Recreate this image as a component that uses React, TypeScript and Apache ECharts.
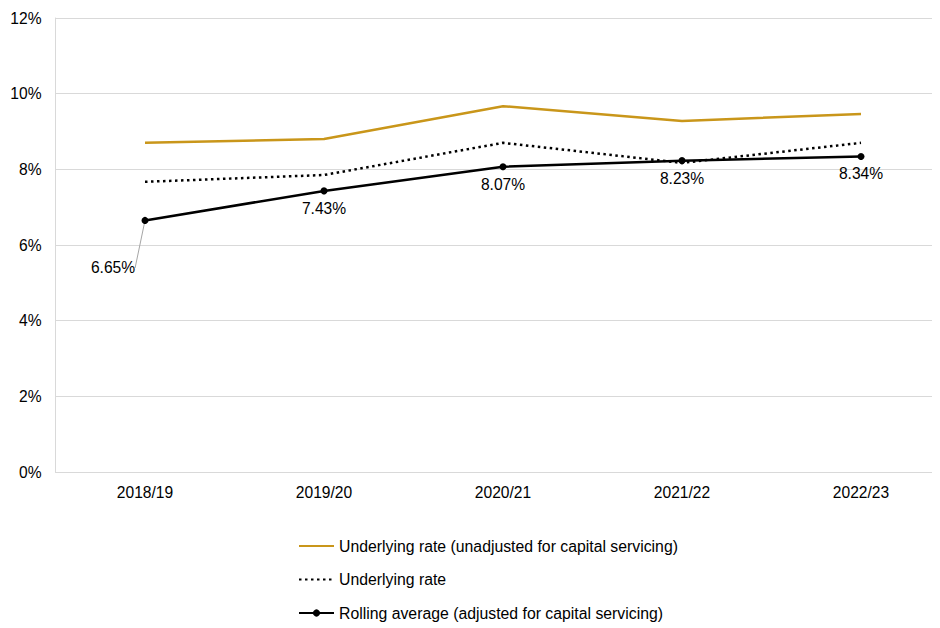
import React, { useEffect, useRef } from "react";
import * as echarts from "echarts";

const categories = ["2018/19", "2019/20", "2020/21", "2021/22", "2022/23"];
const unadjusted = [8.7, 8.8, 9.67, 9.28, 9.46];
const underlying = [7.67, 7.85, 8.7, 8.17, 8.7];
const rolling = [6.65, 7.43, 8.07, 8.23, 8.34];
const seriesNames = [
  "Underlying rate (unadjusted for capital servicing)",
  "Underlying rate",
  "Rolling average (adjusted for capital servicing)",
];

export default function App() {
  const ref = useRef<HTMLDivElement>(null);
  useEffect(() => {
    const chart = echarts.init(ref.current!, null, { renderer: "svg" });
    const font = "Liberation Sans, Arial, sans-serif";
    chart.setOption({
      animation: false,
      textStyle: { fontFamily: font },
      grid: {
        left: 47.5,
        width: 895,
        top: 10,
        bottom: 156,
        containLabel: false,
        outerBoundsMode: "none",
      },
      legend: {
        orient: "vertical",
        left: 285,
        top: 525,
        itemWidth: 35,
        itemHeight: 9,
        itemGap: 17.5,
        textStyle: { fontSize: 15.8, color: "#000", fontFamily: font },
        data: [
          { name: seriesNames[0], itemStyle: { opacity: 0 } },
          { name: seriesNames[1], itemStyle: { opacity: 0 } },
          { name: seriesNames[2] },
        ],
      },
      xAxis: {
        type: "category",
        data: categories,
        boundaryGap: true,
        axisLine: { show: true, lineStyle: { color: "#d9d9d9", width: 1 } },
        axisTick: { show: false },
        axisLabel: { fontSize: 15.6, color: "#000", margin: 12, fontFamily: font },
      },
      yAxis: {
        type: "value",
        min: 0,
        max: 12,
        interval: 2,
        axisLine: { show: true, lineStyle: { color: "#d9d9d9", width: 1 } },
        axisTick: { show: false },
        splitLine: { show: true, lineStyle: { color: "#d9d9d9", width: 1 } },
        axisLabel: {
          fontSize: 15.6,
          color: "#000",
          margin: 14,
          fontFamily: font,
          formatter: (v: number) => v + "%",
        },
      },
      series: [
        {
          name: seriesNames[0],
          type: "line",
          data: unadjusted,
          symbol: "none",
          lineStyle: { color: "#C9961A", width: 2.5 },
          itemStyle: { color: "#C9961A" },
        },
        {
          name: seriesNames[1],
          type: "line",
          data: underlying,
          symbol: "none",
          lineStyle: { color: "#000", width: 2.5, type: [2.5, 3.5] },
          itemStyle: { color: "#000" },
        },
        {
          name: seriesNames[2],
          type: "line",
          data: rolling.map((v, i) =>
            i === 0
              ? { value: v, labelLine: { show: true, lineStyle: { color: "#a6a6a6", width: 1 } } }
              : { value: v }
          ),
          symbol: "circle",
          symbolSize: 7,
          lineStyle: { color: "#000", width: 2.5 },
          itemStyle: { color: "#000" },
          label: {
            show: true,
            position: "bottom",
            distance: 6,
            fontSize: 15.6,
            color: "#000",
            fontFamily: font,
            formatter: (p: any) => p.value.toFixed(2) + "%",
          },
          labelLine: { show: false },
          labelLayout: (params: any) =>
            params.dataIndex === 0 ? { dx: -32, dy: 30 } : {},
        },
      ],
    });
    return () => chart.dispose();
  }, []);
  return <div ref={ref} style={{ width: 932, height: 620 }} />;
}
